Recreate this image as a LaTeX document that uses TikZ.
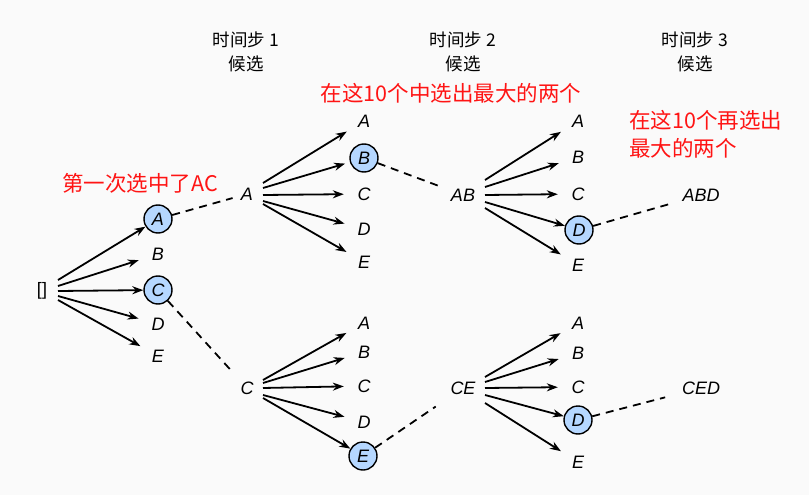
\documentclass[tikz,border=0pt]{standalone}
\usepackage{fontspec}
\setmainfont{Liberation Sans}
\newfontfamily\cjk{Noto Sans CJK SC}
\usetikzlibrary{arrows.meta}
\definecolor{bgc}{RGB}{250,250,250}
\definecolor{selblue}{RGB}{181,215,255}
\definecolor{notered}{RGB}{255,20,20}
\begin{document}
\begin{tikzpicture}[x=1pt,y=-1pt,
  lbl/.style={font=\fontsize{18}{20}\selectfont\itshape, shape=circle, inner sep=0pt, minimum size=40pt},
  sel/.style={font=\fontsize{18}{20}\selectfont\itshape, shape=circle, draw, line width=1.4pt, fill=selblue, inner sep=0pt, minimum size=28pt},
  src/.style={font=\fontsize{18}{20}\selectfont\itshape, inner sep=0pt},
  arr/.style={line width=1.8pt, -{Stealth[length=11pt,width=8pt]}},
  dsh/.style={line width=1.8pt, dash pattern=on 8pt off 6pt},
  hdr/.style={font=\cjk\fontsize{17.5}{24}\selectfont, align=center, inner sep=0pt},
  note/.style={font=\cjk\fontsize{21.5}{28}\selectfont, text=notered, align=left, inner sep=0pt},
]
\fill[bgc] (0,0) rectangle (809,495);
\useasboundingbox (0,0) rectangle (809,495);

% headers
\node[hdr] (h1) at (246,52) {时间步 1\\候选};
\node[hdr] (h2) at (463,52) {时间步 2\\候选};
\node[hdr] (h3) at (695,52) {时间步 3\\候选};

% notes
\node[note] (n1) at (140,183) {第一次选中了AC};
\node[note] (n2) at (451,93) {在这10个中选出最大的两个};
\node[note, anchor=west] (n3) at (629,134) {在这10个再选出\\最大的两个};

% root
\node[src, font=\fontsize{18}{20}\selectfont] (r) at (42,291) {[]};

% level 1
\node[sel] (A1) at (158,219) {A};
\node[lbl] (B1) at (158,254) {B};
\node[sel] (C1) at (158,290) {C};
\node[lbl] (D1) at (158,324) {D};
\node[lbl] (E1) at (158,356) {E};
\draw[arr] ([shift={(16,-11)}]r.center) -- (A1);
\draw[arr] ([shift={(16,-5)}]r.center) -- (B1);
\draw[arr] ([shift={(16,0)}]r.center) -- (C1);
\draw[arr] ([shift={(16,5)}]r.center) -- (D1);
\draw[arr] ([shift={(16,9)}]r.center) -- (E1);

% level 2 top
\node[src] (TA) at (247,194) {A};
\node[lbl] (TAa) at (364,121) {A};
\node[sel] (TAb) at (364,158) {B};
\node[lbl] (TAc) at (364,194) {C};
\node[lbl] (TAd) at (364,229) {D};
\node[lbl] (TAe) at (364,262) {E};
\draw[arr] ([shift={(16,-11)}]TA.center) -- (TAa);
\draw[arr, shorten >=5pt] ([shift={(16,-6)}]TA.center) -- (TAb);
\draw[arr] ([shift={(16,1)}]TA.center) -- (TAc);
\draw[arr] ([shift={(16,7)}]TA.center) -- (TAd);
\draw[arr] ([shift={(16,10)}]TA.center) -- (TAe);

% level 2 bottom
\node[src] (TC) at (247,388) {C};
\node[lbl] (TCa) at (364,323) {A};
\node[lbl] (TCb) at (364,352) {B};
\node[lbl] (TCc) at (364,386) {C};
\node[lbl] (TCd) at (364,422) {D};
\node[sel] (TCe) at (363,456) {E};
\draw[arr] ([shift={(16,-8)}]TC.center) -- (TCa);
\draw[arr] ([shift={(16,-5)}]TC.center) -- (TCb);
\draw[arr] ([shift={(16,0)}]TC.center) -- (TCc);
\draw[arr] ([shift={(16,7)}]TC.center) -- (TCd);
\draw[arr] ([shift={(16,10)}]TC.center) -- (TCe);

% level 3 top
\node[src] (AB) at (463,195) {AB};
\node[lbl] (ABa) at (578,121) {A};
\node[lbl] (ABb) at (578,157) {B};
\node[lbl] (ABc) at (578,194) {C};
\node[sel] (ABd) at (579,230) {D};
\node[lbl] (ABe) at (578,265) {E};
\draw[arr] ([shift={(22,-15)}]AB.center) -- (ABa);
\draw[arr] ([shift={(22,-8)}]AB.center) -- (ABb);
\draw[arr] ([shift={(22,0)}]AB.center) -- (ABc);
\draw[arr] ([shift={(22,7)}]AB.center) -- (ABd);
\draw[arr] ([shift={(22,13)}]AB.center) -- (ABe);

% level 3 bottom
\node[src] (CE) at (463,388) {CE};
\node[lbl] (CEa) at (578,323) {A};
\node[lbl] (CEb) at (578,353) {B};
\node[lbl] (CEc) at (578,387) {C};
\node[sel] (CEd) at (578,420) {D};
\node[lbl] (CEe) at (578,462) {E};
\draw[arr] ([shift={(22,-11)}]CE.center) -- (CEa);
\draw[arr] ([shift={(22,-6)}]CE.center) -- (CEb);
\draw[arr] ([shift={(22,0)}]CE.center) -- (CEc);
\draw[arr] ([shift={(22,7)}]CE.center) -- (CEd);
\draw[arr] ([shift={(22,15)}]CE.center) -- (CEe);

% level 4
\node[src] (ABD) at (701,195) {ABD};
\node[src] (CED) at (701,388) {CED};

% dashed links
\draw[dsh, shorten >=15pt] (A1) -- (TA.center);
\draw[dsh, shorten >=25pt] (C1) -- (TC.center);
\draw[dsh, shorten >=24pt] (TAb) -- (AB.center);
\draw[dsh, shorten >=33pt] (TCe) -- (CE.center);
\draw[dsh, shorten >=29pt] (ABd) -- (ABD.center);
\draw[dsh, shorten >=37pt] (CEd) -- (CED.center);
\end{tikzpicture}
\end{document}
